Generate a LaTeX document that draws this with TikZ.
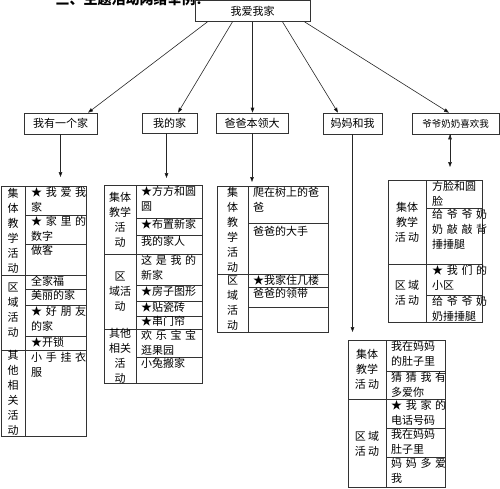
\documentclass[tikz,border=0pt]{standalone}
\usepackage{fontspec}
\setmainfont{Noto Sans CJK SC}
\usetikzlibrary{arrows.meta,positioning}
\setlength{\parindent}{0pt}
\newcommand\spr[1]{\makebox[\hsize][s]{#1}}
\tikzset{
  tabline/.style={draw=black!80,line width=0.6pt},
  headbox/.style={tabline,inner sep=0pt,font=\fontsize{11}{13}\selectfont},
  catg/.style={align=center,inner sep=0pt,font=\fontsize{11}{15}\selectfont},
  entry/.style={anchor=north west,align=left,inner sep=0pt,text width=#1,font=\fontsize{11}{15}\selectfont},
  arr/.style={draw=black!85,line width=0.6pt,-{Triangle[length=5pt,width=3.6pt]}}
}
\begin{document}
\begin{tikzpicture}[x=1pt,y=-1pt]
\useasboundingbox (0,0) rectangle (500,488);
\clip (0,0) rectangle (500,488);
\node[anchor=base west,font=\bfseries\fontsize{14}{14}\selectfont] (title) at (52,4) {三、主题活动网络举例：};
% top and second level
\node[headbox,minimum width=115pt,minimum height=21pt] (home) at (252.5,11) {我爱我家};
\node[headbox,minimum width=73pt,minimum height=21pt] (n1) at (60.5,123.5) {我有一个家};
\node[headbox,minimum width=55pt,minimum height=20pt] (n2) at (169.5,123) {我的家};
\node[headbox,minimum width=72pt,minimum height=20pt] (n3) at (252,123) {爸爸本领大};
\node[headbox,minimum width=59pt,minimum height=21pt] (n4) at (352.5,123.5) {妈妈和我};
\node[headbox,minimum width=87pt,minimum height=21pt,font=\fontsize{9.5}{11}\selectfont] (n5) at (455.5,123.5) {爷爷奶奶喜欢我};
\coordinate (a1) at (60.5,177);
\coordinate (a2) at (166.5,178);
\coordinate (a3) at (252,182);
\coordinate (a4) at (352.5,332);
\coordinate (a5) at (450,167);
\path[arr]
([xshift=-45pt]home.south) edge ([xshift=27.5pt]n1.north)
([xshift=-20pt]home.south) edge ([xshift=8.5pt]n2.north)
(home.south) edge ([xshift=0.5pt]n3.north)
([xshift=30pt]home.south) edge ([xshift=-14.5pt]n4.north)
([xshift=52pt]home.south) edge ([xshift=-6.5pt]n5.north)
(n1.south) edge (a1)
([xshift=-3pt]n2.south) edge (a2)
(n3.south) edge (a3)
(n4.south) edge (a4)
([xshift=-5.5pt]n5.south) edge (a5);
% table 1
\draw[tabline] (1,186) rectangle (86,436) (25,186) -- (25,436)
  (1,275) -- (86,275) (1,350) -- (86,350)
  (25,215) -- (86,215) (25,244) -- (86,244) (25,289) -- (86,289)
  (25,305) -- (86,305) (25,336) -- (86,336);
\node[catg] (c11) at (13,230.5) {集\\体\\教\\学\\活\\动};
\node[catg] (c12) at (13,310) {区\\域\\活\\动};
\node[catg] (c13) at (13,393) {其\\他\\相\\关\\活\\动};
\node[entry=50pt] (e11) at (31,187) {\spr{★ 我 爱 我}\\家};
\node[entry=50pt] (e12) at (31,216) {\spr{★ 家 里 的}\\数字};
\node[entry=50pt] (e13) at (31,245) {做客};
\node[entry=50pt] (e14) at (31,275.5) {全家福};
\node[entry=50pt] (e15) at (31,290) {美丽的家};
\node[entry=50pt] (e16) at (31,306) {\spr{★ 好 朋 友}\\的家};
\node[entry=50pt] (e17) at (31,336.5) {★开锁};
\node[entry=50pt] (e18) at (31,352) {\spr{小 手 挂 衣}\\服};
% table 2
\draw[tabline] (104,185) rectangle (202,383) (136,185) -- (136,383)
  (104,254) -- (202,254) (104,329) -- (202,329)
  (136,218) -- (202,218) (136,235) -- (202,235) (136,285) -- (202,285)
  (136,301) -- (202,301) (136,316) -- (202,316) (136,357) -- (202,357);
\node[catg] (c21) at (120,219.5) {集体\\教学\\活\\动};
\node[catg] (c22) at (120,291.5) {区\\域活\\动};
\node[catg] (c23) at (120,356) {其他\\相关\\活\\动};
\node[entry=58pt] (e21) at (141,186) {★方方和圆\\圆};
\node[entry=58pt] (e22) at (141,219) {★布置新家};
\node[entry=58pt] (e23) at (141,236) {我的家人};
\node[entry=58pt] (e24) at (141,255) {\spr{这 是 我 的}\\新家};
\node[entry=58pt] (e25) at (141,286) {★房子图形};
\node[entry=58pt] (e26) at (141,302) {★贴瓷砖};
\node[entry=58pt] (e27) at (141,316.5) {★串门帘};
\node[entry=58pt] (e28) at (141,330) {\spr{欢 乐 宝 宝}\\逛果园};
\node[entry=58pt] (e29) at (141,358) {小兔搬家};
% table 3
\draw[tabline] (217,186) rectangle (328,332) (248,186) -- (248,332)
  (217,274) -- (328,274)
  (248,223) -- (328,223) (248,287) -- (328,287) (248,307) -- (328,307);
\node[catg] (c31) at (232.5,230) {集\\体\\教\\学\\活\\动};
\node[catg] (c32) at (232.5,303) {区\\域\\活\\动};
\node[entry=72pt] (e31) at (253,187) {爬在树上的爸\\爸};
\node[entry=72pt] (e32) at (253,226) {爸爸的大手};
\node[entry=72pt] (e33) at (253,275) {★我家住几楼};
\node[entry=72pt] (e34) at (253,288.5) {爸爸的领带};
% table 4
\draw[tabline] (388,180) rectangle (482,322) (426,180) -- (426,322)
  (388,264) -- (482,264)
  (426,208) -- (482,208) (426,295) -- (482,295);
\node[catg] (c41) at (407,222) {集体\\教学\\活 动};
\node[catg] (c42) at (407,293) {区 域\\活 动};
\node[entry=46pt] (e41) at (432,181) {方脸和圆\\脸};
\node[entry=46pt] (e42) at (432,209) {\spr{给 爷 爷 奶}\\\spr{奶 敲 敲 背}\\捶捶腿};
\node[entry=46pt] (e43) at (432,265) {\spr{★ 我 们 的}\\小区};
\node[entry=46pt] (e44) at (432,296) {\spr{给 爷 爷 奶}\\奶捶捶腿};
% table 5
\draw[tabline] (348,340) rectangle (445,487.5) (386,340) -- (386,487.5)
  (348,399) -- (445,399)
  (386,371) -- (445,371) (386,428) -- (445,428) (386,457) -- (445,457);
\node[catg] (c51) at (367,369.5) {集体\\教学\\活 动};
\node[catg] (c52) at (367,443.5) {区 域\\活 动};
\node[entry=50pt] (e51) at (391,341) {我在妈妈\\的肚子里};
\node[entry=50pt] (e52) at (391,372) {\spr{猜 猜 我 有}\\多爱你};
\node[entry=50pt] (e53) at (391,400) {\spr{★ 我 家 的}\\电话号码};
\node[entry=50pt] (e54) at (391,429) {我在妈妈\\肚子里};
\node[entry=50pt] (e55) at (391,458) {\spr{妈 妈 多 爱}\\我};
\end{tikzpicture}
\end{document}
